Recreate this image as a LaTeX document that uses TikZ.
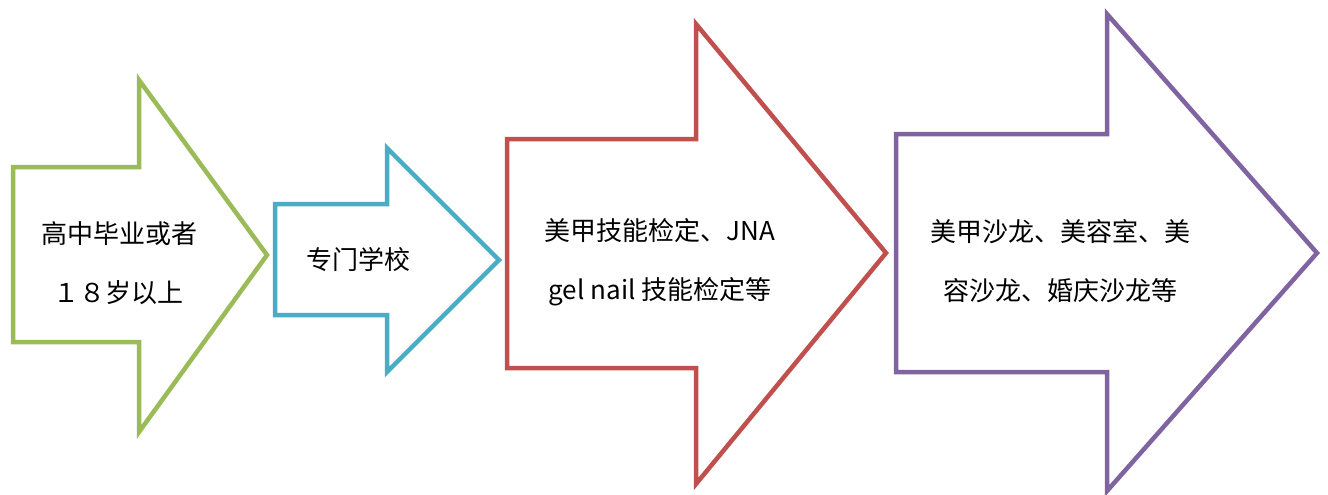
\documentclass[tikz,border=0pt]{standalone}
\usepackage{fontspec}
\newfontfamily\cjk{Noto Sans CJK SC}
\definecolor{ogreen}{HTML}{9BBB59}
\definecolor{oblue}{HTML}{4BACC6}
\definecolor{ored}{HTML}{C0504D}
\definecolor{opurple}{HTML}{8064A2}
\tikzset{
  arrowshape/.style={line width=4.5pt, line join=miter, fill=white},
  label/.style={font=\cjk\fontsize{26}{59}\selectfont, align=center, inner sep=0pt, text=black}
}
\begin{document}
\begin{tikzpicture}[x=1pt,y=-1pt]
\useasboundingbox (0,0) rectangle (1328,495);
\draw[arrowshape, draw=ogreen] (13,167) -- (139,167) -- (139,80) -- (267,255) -- (139,432) -- (139,342) -- (13,342) -- cycle;
\draw[arrowshape, draw=oblue] (275,204) -- (387,204) -- (387,148) -- (499,260) -- (387,372) -- (387,315) -- (275,315) -- cycle;
\draw[arrowshape, draw=ored] (507,139) -- (696,139) -- (696,24) -- (886,253) -- (696,484) -- (696,368) -- (507,368) -- cycle;
\draw[arrowshape, draw=opurple] (896,134) -- (1107,134) -- (1107,14) -- (1317,253) -- (1107,491) -- (1107,372) -- (896,372) -- cycle;
\node[label] (t1) at (119,263) {高中毕业或者\\１８岁以上};
\node[label] (t2) at (358,260) {专门学校};
\node[label] (t3) at (660,262) {美甲技能检定、JNA\\gel nail 技能检定等};
\node[label] (t4) at (1060,261) {美甲沙龙、美容室、美\\容沙龙、婚庆沙龙等};
\end{tikzpicture}
\end{document}
